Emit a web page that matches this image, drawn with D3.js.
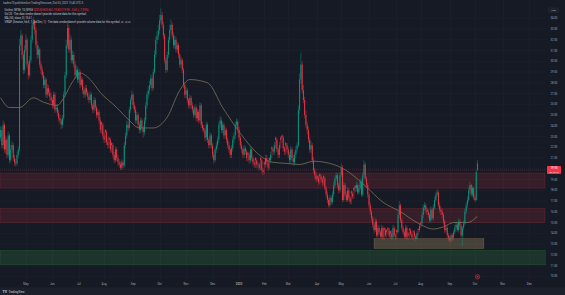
<!DOCTYPE html>
<html>
<head>
<meta charset="utf-8">
<script src="https://cdn.jsdelivr.net/npm/d3@7"></script>
<style>
  html, body { margin: 0; padding: 0; background: #161a25; }
  svg { display: block; font-family: "Roboto", "Liberation Sans", sans-serif; }
</style>
</head>
<body>
<svg id="chart" width="565" height="295"></svg>
<script>
// daily bars, first session 2022-04-01 (weekends + exchange holidays skipped)
const startDate = "2022-04-01";
const holidays = ["2022-04-15", "2022-05-30", "2022-06-20", "2022-07-04", "2022-09-05", "2022-11-24",
  "2022-12-26", "2023-01-02", "2023-01-16", "2023-02-20", "2023-04-07", "2023-05-29", "2023-06-19",
  "2023-07-04", "2023-09-04", "2023-11-23", "2023-12-25"];

const opens = [
  22.9, 23.6, 22.2, 24.1, 21.8, 22.7, 21.3, 23.1, 20.8, 21.8, 22.2, 21.0,
  20.6, 20.5, 21.3, 21.8,
  31.5, 32.4, 30.6, 29.2, 31.1, 32.0, 29.7, 28.7,
  30.1, 32.0, 33.4, 33.7,
  32.9, 31.5, 30.6, 31.1, 29.7,
  29.2, 28.7, 27.8, 28.3, 26.9, 27.5, 27.1,
  26.7, 26.4, 25.9, 26.9, 25.5, 25.7, 25.2,
  24.7, 24.5, 24.1,
  24.7, 26.9, 28.7, 31.5,
  33.1, 31.1, 32.0, 30.1,
  30.6, 29.7, 28.7, 29.2, 28.3,
  29.0, 27.8, 28.3, 27.3, 26.9, 27.5, 27.1,
  26.7, 26.4, 26.9, 25.9, 25.5, 26.4, 25.7, 25.0,
  25.3, 24.5, 24.3, 24.1, 23.1, 23.6, 23.4, 22.5,
  22.9, 22.7, 22.4, 22.2, 21.3, 20.8, 21.8, 21.0,
  20.6, 20.4, 20.1, 20.6,
  20.3, 22.2, 23.1, 24.1,
  23.8, 25.5, 26.4, 26.9,
  25.9, 25.5, 24.5, 25.0, 24.1, 23.6, 24.5, 23.8,
  23.4, 24.5, 25.9, 26.9,
  27.3, 27.8, 28.4, 27.5,
  29.0, 30.6, 32.0, 32.4,
  32.9, 33.8, 34.3, 33.4,
  32.4, 30.1, 29.2, 30.6, 32.0,
  32.9, 33.4, 32.4, 31.5, 32.0, 31.1,
  31.5, 30.6, 29.7, 30.1,
  29.2, 27.8, 26.9, 27.3, 26.4, 25.9,
  26.6, 25.9, 25.5, 25.0, 25.7,
  24.7, 25.3, 24.5, 25.9, 24.1,
  23.8, 23.6, 22.9, 24.1, 22.7, 22.2,
  23.1, 22.2, 21.3, 20.8,
  21.8, 22.2, 22.7, 24.1, 24.5,
  23.6, 24.1, 23.1, 23.6,
  22.7, 22.2, 21.8, 21.3, 21.9,
  22.7, 23.1, 24.1, 24.4, 23.6,
  22.9, 22.2, 21.8, 21.3, 21.9, 21.6,
  21.5, 21.3, 20.8, 21.8, 21.0, 20.6, 21.0, 20.8,
  20.4, 20.4, 21.0, 20.8, 19.9, 20.6, 20.4, 21.0, 20.6, 21.0, 20.8, 22.0, 21.8,
  21.6, 22.9, 22.7, 21.8, 21.3, 22.9, 23.1, 22.9, 21.9, 22.4, 22.2,
  21.8, 21.3, 20.8, 21.8, 21.0, 20.6, 21.3, 21.8,
  22.2, 25.5, 28.3, 29.7, 27.3,
  26.4, 25.0, 24.1,
  23.6, 22.7, 21.8, 22.2, 20.8,
  19.9, 19.4, 19.3, 19.1, 19.5, 19.3, 19.0, 19.3,
  19.1, 18.2, 17.6, 17.1, 16.6, 17.3, 16.9,
  17.6, 18.5, 19.1, 19.4, 18.5,
  18.0, 19.4, 20.1, 17.1,
  18.5, 17.6, 17.1, 18.0, 17.3, 17.9, 17.7, 18.2, 18.4,
  18.2, 18.5, 17.8, 18.2, 18.8,
  17.6, 19.4, 20.4, 19.1,
  18.5, 17.6, 16.6, 16.0,
  15.4, 14.8, 14.3, 15.1, 13.8,
  14.5, 14.1, 13.7, 14.5, 14.5, 14.3, 14.3,
  14.5, 14.3, 14.2, 14.0, 13.6, 14.5, 13.8, 14.3,
  14.1, 15.7, 16.6, 15.2,
  14.5, 14.1, 13.7, 14.5, 14.0, 14.4,
  14.3, 13.9, 14.2, 14.1, 13.7, 13.5, 14.4, 14.3, 15.0,
  14.9, 15.7, 16.4, 16.6, 16.2,
  16.0, 15.7, 15.2, 16.2, 15.4,
  16.4, 17.1, 17.6, 17.8, 16.6, 16.2,
  16.0, 15.7, 15.1, 14.3, 14.5,
  13.8, 13.6, 13.4, 13.8, 13.6,
  14.1, 14.5, 14.8, 14.3, 15.1,
  14.7, 13.8, 14.5,
  14.9, 16.0, 16.6,
  17.1, 18.0, 18.5, 17.6,
  18.2, 17.3,
  17.1, 20.5
];

const highs = [
  24.0, 23.9, 24.5, 24.3, 23.1, 22.9, 23.5, 23.3, 22.2, 22.6, 22.4, 21.3,
  20.9, 21.6, 22.1, 32.1,
  32.9, 32.6, 30.9, 31.5, 32.5, 32.2, 30.0, 30.5,
  32.4, 33.9, 34.1, 33.9,
  33.2, 31.9, 31.5, 31.3, 30.0,
  29.5, 29.0, 28.6, 28.5, 27.9, 27.8, 27.4,
  27.0, 26.6, 27.2, 27.1, 26.0, 26.0, 25.5,
  25.0, 24.7, 25.0,
  27.2, 29.0, 32.0, 33.8,
  33.4, 32.5, 32.3, 31.0,
  30.9, 30.0, 29.6, 29.5, 29.3,
  29.2, 28.6, 28.5, 27.6, 27.8, 27.8, 27.3,
  27.0, 27.2, 27.1, 26.1, 26.7, 26.6, 25.9, 25.6,
  25.5, 24.8, 24.4, 24.3, 23.4, 23.7, 23.6, 22.8,
  23.0, 22.9, 22.5, 22.4, 21.6, 22.1, 22.0, 21.3,
  20.9, 20.7, 20.9, 20.8,
  22.5, 23.4, 24.5, 24.4,
  25.8, 26.7, 27.3, 27.1,
  26.2, 25.8, 25.3, 25.2, 24.4, 24.8, 24.7, 24.0,
  24.8, 26.2, 27.2, 27.7,
  28.2, 28.8, 28.7, 29.3,
  31.0, 32.3, 32.8, 33.4,
  34.3, 34.9, 34.6, 33.7,
  32.6, 30.4, 30.9, 32.3, 33.4,
  33.9, 33.6, 32.7, 32.4, 32.3, 31.8,
  31.7, 30.8, 30.4, 30.3,
  29.4, 28.0, 27.6, 27.5, 26.6, 26.9,
  26.8, 26.2, 25.8, 26.0, 25.9,
  25.6, 25.5, 26.2, 26.1, 24.4,
  24.1, 23.8, 24.4, 24.3, 22.9, 23.4,
  23.3, 22.4, 21.6, 22.0,
  22.5, 23.0, 24.4, 24.9, 24.8,
  24.4, 24.3, 23.9, 23.8,
  22.9, 22.5, 22.0, 22.2, 23.0,
  23.4, 24.4, 24.7, 24.6, 23.9,
  23.1, 22.5, 22.0, 22.2, 22.1, 21.8,
  21.6, 21.5, 22.1, 22.0, 21.2, 20.9, 21.1, 21.0,
  20.7, 20.6, 21.1, 21.0, 20.1, 20.7, 21.3, 21.3, 20.8, 21.1, 21.6, 22.1, 22.0,
  22.5, 23.0, 22.9, 22.0, 22.5, 23.0, 23.2, 23.1, 22.1, 22.5, 22.4,
  22.0, 21.6, 22.1, 22.0, 21.3, 21.6, 22.1, 22.5,
  25.9, 28.9, 30.8, 30.0, 27.8,
  26.7, 25.4, 24.4,
  23.9, 23.0, 22.6, 22.4, 21.1,
  20.1, 19.7, 19.4, 19.4, 19.6, 19.5, 19.2, 19.4,
  19.3, 18.4, 17.9, 17.3, 17.6, 17.5, 17.9,
  18.8, 19.4, 19.7, 19.6, 18.7,
  19.7, 20.5, 20.3, 18.8,
  18.7, 17.9, 18.3, 18.2, 17.5, 18.0, 17.9, 18.3, 18.5,
  18.8, 18.7, 18.5, 19.1, 19.0,
  19.7, 20.8, 20.6, 19.3,
  18.7, 17.8, 16.9, 16.2,
  15.6, 15.0, 15.4, 15.3, 14.8,
  14.8, 14.3, 14.8, 14.7, 14.6, 14.5, 14.4,
  14.6, 14.5, 14.2, 14.3, 14.8, 14.7, 14.0, 14.4,
  16.0, 17.0, 16.8, 15.4,
  14.7, 14.3, 14.8, 14.7, 14.1, 14.5,
  14.5, 14.1, 14.3, 14.3, 13.9, 14.2, 14.5, 14.9, 15.1,
  16.0, 16.7, 16.9, 16.8, 16.4,
  16.2, 15.9, 16.5, 16.4, 16.7,
  17.4, 17.9, 18.1, 18.0, 16.9, 16.5,
  16.3, 15.9, 15.3, 14.8, 14.7,
  14.0, 13.8, 14.0, 14.0, 14.3,
  14.8, 15.1, 15.0, 15.4, 15.3,
  14.9, 14.7, 15.2,
  16.3, 16.9, 17.4,
  18.3, 18.8, 18.6, 18.4,
  18.3, 17.6,
  19.9, 20.8
];

const lows = [
  22.6, 21.9, 21.8, 21.5, 21.4, 21.0, 21.0, 20.5, 20.6, 21.5, 20.7, 20.3,
  20.2, 20.3, 21.0, 21.6,
  31.0, 30.2, 28.8, 28.9, 30.8, 29.4, 28.3, 28.5,
  29.8, 31.7, 33.0, 32.5,
  31.2, 30.2, 30.3, 29.4, 28.8,
  28.4, 27.5, 27.5, 26.6, 26.6, 26.8, 26.3,
  26.1, 25.6, 25.6, 25.2, 25.3, 24.9, 24.4,
  24.2, 23.7, 23.8,
  24.5, 26.6, 28.4, 31.2,
  30.8, 30.8, 29.8, 29.8,
  29.4, 28.4, 28.4, 28.0, 28.0,
  27.5, 27.6, 27.0, 26.6, 26.6, 26.8, 26.4,
  26.1, 26.1, 25.6, 25.2, 25.2, 25.4, 24.7, 24.8,
  24.2, 23.3, 23.3, 22.8, 22.4, 22.4, 22.2, 21.9,
  21.9, 21.5, 21.5, 21.0, 20.5, 20.6, 20.7, 20.3,
  20.1, 19.9, 19.9, 20.0,
  20.1, 21.9, 22.8, 23.5,
  23.6, 25.2, 26.0, 25.6,
  25.2, 24.2, 24.2, 23.8, 23.3, 23.3, 23.5, 22.9,
  23.1, 24.2, 25.6, 26.5,
  27.0, 27.5, 27.2, 27.3,
  28.8, 30.3, 31.6, 32.0,
  32.6, 33.5, 33.1, 32.1,
  29.8, 28.9, 29.0, 30.3, 31.7,
  32.6, 32.1, 31.2, 31.2, 30.8, 30.8,
  30.3, 29.4, 29.4, 28.9,
  27.5, 26.6, 26.6, 26.1, 25.6, 25.6,
  25.6, 25.2, 24.7, 24.8, 24.4,
  24.4, 24.2, 24.3, 23.8, 23.5,
  23.3, 22.6, 22.6, 22.4, 21.9, 21.9,
  21.9, 21.0, 20.5, 20.6,
  21.5, 21.9, 22.4, 23.8, 23.3,
  23.3, 22.8, 22.8, 22.4,
  21.9, 21.5, 21.0, 21.0, 21.6,
  22.4, 22.8, 23.8, 23.3, 22.6,
  21.9, 21.5, 21.0, 21.0, 21.3, 20.7,
  20.7, 20.5, 20.5, 20.7, 20.3, 20.1, 20.1, 20.1,
  20.0, 19.8, 19.9, 19.6, 19.4, 19.5, 20.1, 20.3, 19.8, 19.9, 20.5, 21.0, 21.3,
  21.3, 21.9, 21.5, 21.0, 21.0, 21.9, 22.4, 21.6, 21.3, 21.3, 21.5,
  21.0, 20.5, 20.5, 20.7, 20.3, 20.3, 21.0, 21.5,
  22.0, 25.1, 27.9, 27.0, 26.1,
  24.7, 23.8, 23.2,
  22.4, 21.5, 21.5, 20.5, 19.6,
  19.1, 18.8, 18.8, 18.5, 18.6, 18.8, 18.4, 18.5,
  18.0, 17.3, 16.8, 16.4, 16.4, 16.6, 16.7,
  17.4, 18.2, 18.9, 18.2, 17.7,
  17.8, 19.2, 16.9, 16.9,
  17.4, 16.9, 16.9, 17.0, 16.7, 16.7, 17.2, 17.2, 17.8,
  17.9, 17.6, 17.6, 18.0, 17.4,
  17.4, 19.1, 18.9, 18.2,
  17.3, 16.3, 15.7, 15.1,
  14.5, 14.0, 14.1, 13.6, 13.6,
  13.9, 13.5, 13.5, 13.4, 13.4, 13.6, 13.6,
  13.9, 13.5, 13.5, 13.4, 13.4, 13.6, 13.4, 13.5,
  13.9, 15.4, 15.0, 14.3,
  13.9, 13.5, 13.5, 13.4, 13.4, 13.6,
  13.7, 13.4, 13.4, 13.5, 13.3, 13.4, 13.8, 14.1, 14.5,
  14.7, 15.4, 16.1, 15.9, 15.7,
  15.4, 15.0, 15.0, 15.2, 15.2,
  16.2, 16.9, 17.4, 16.4, 15.9, 15.7,
  15.4, 14.8, 14.0, 14.1, 13.5,
  13.3, 13.1, 13.2, 13.3, 13.4,
  13.9, 14.3, 14.1, 14.1, 14.4,
  13.6, 12.8, 14.3,
  14.7, 15.8, 16.3,
  16.9, 17.7, 17.4, 17.4,
  17.1, 16.9,
  17.0, 19.8
];

const closes = [
  23.6, 22.2, 24.1, 21.8, 22.7, 21.3, 23.1, 20.8, 21.8, 22.2, 21.0, 20.6,
  20.5, 21.3, 21.8, 31.5,
  32.4, 30.6, 29.2, 31.1, 32.0, 29.7, 28.7, 30.1,
  32.0, 33.4, 33.7, 32.9,
  31.5, 30.6, 31.1, 29.7, 29.2,
  28.7, 27.8, 28.3, 26.9, 27.5, 27.1, 26.7,
  26.4, 25.9, 26.9, 25.5, 25.7, 25.2, 24.7,
  24.5, 24.1, 24.7,
  26.9, 28.7, 31.5, 33.1,
  31.1, 32.0, 30.1, 30.6,
  29.7, 28.7, 29.2, 28.3, 29.0,
  27.8, 28.3, 27.3, 26.9, 27.5, 27.1, 26.7,
  26.4, 26.9, 25.9, 25.5, 26.4, 25.7, 25.0, 25.3,
  24.5, 23.6, 24.1, 23.1, 22.7, 23.4, 22.5, 22.2,
  22.7, 21.8, 22.2, 21.3, 20.8, 21.8, 21.0, 20.6,
  20.4, 20.1, 20.6, 20.3,
  22.2, 23.1, 24.1, 23.8,
  25.5, 26.4, 26.9, 25.9,
  25.5, 24.5, 25.0, 24.1, 23.6, 24.5, 23.8, 23.4,
  24.5, 25.9, 26.9, 27.3,
  27.8, 28.4, 27.5, 29.0,
  30.6, 32.0, 32.4, 32.9,
  33.8, 34.3, 33.4, 32.4,
  30.1, 29.2, 30.6, 32.0, 32.9,
  33.4, 32.4, 31.5, 32.0, 31.1, 31.5,
  30.6, 29.7, 30.1, 29.2,
  27.8, 26.9, 27.3, 26.4, 25.9, 26.6,
  25.9, 25.5, 25.0, 25.7, 24.7,
  25.3, 24.5, 25.9, 24.1, 23.8,
  23.6, 22.9, 24.1, 22.7, 22.2, 23.1,
  22.2, 21.3, 20.8, 21.8,
  22.2, 22.7, 24.1, 24.5, 23.6,
  24.1, 23.1, 23.6, 22.7,
  22.2, 21.8, 21.3, 21.9, 22.7,
  23.1, 24.1, 24.4, 23.6, 22.9,
  22.2, 21.8, 21.3, 21.9, 21.6, 21.0,
  21.3, 20.8, 21.8, 21.0, 20.6, 20.4, 20.8, 20.4,
  20.4, 20.1, 20.8, 19.9, 19.7, 20.4, 21.0, 20.6, 20.1, 20.8, 21.3, 21.8, 21.6,
  22.2, 22.7, 21.8, 21.3, 22.2, 22.7, 22.9, 21.9, 21.6, 22.2, 21.8,
  21.3, 20.8, 21.8, 21.0, 20.6, 21.3, 21.8, 22.2,
  25.5, 28.3, 29.7, 27.3, 26.4,
  25.0, 24.1, 23.6,
  22.7, 21.8, 22.2, 20.8, 19.9,
  19.4, 19.0, 19.1, 18.8, 19.3, 19.0, 18.7, 19.1,
  18.2, 17.6, 17.1, 16.6, 17.3, 16.9, 17.6,
  18.5, 19.1, 19.4, 18.5, 18.0,
  19.4, 20.1, 17.1, 18.5,
  17.6, 17.1, 18.0, 17.3, 16.9, 17.7, 17.4, 18.0, 18.2,
  18.5, 17.8, 18.2, 18.8, 17.6,
  19.4, 20.4, 19.1, 18.5,
  17.6, 16.6, 16.0, 15.4,
  14.8, 14.3, 15.1, 13.8, 14.5,
  14.1, 13.7, 14.5, 13.6, 14.3, 13.8, 14.1,
  14.3, 13.7, 14.0, 13.6, 14.5, 13.8, 13.7, 14.1,
  15.7, 16.6, 15.2, 14.5,
  14.1, 13.7, 14.5, 13.6, 13.8, 14.3,
  13.9, 13.6, 14.1, 13.7, 13.5, 14.0, 14.3, 14.7, 14.9,
  15.7, 16.4, 16.6, 16.2, 16.0,
  15.7, 15.2, 16.2, 15.4, 16.4,
  17.1, 17.6, 17.8, 16.6, 16.2, 16.0,
  15.7, 15.1, 14.3, 14.5, 13.8,
  13.6, 13.4, 13.8, 13.6, 14.1,
  14.5, 14.8, 14.3, 15.1, 14.7,
  13.8, 14.5, 14.9,
  16.0, 16.6, 17.1,
  18.0, 18.5, 17.6, 18.2,
  17.3, 17.1,
  19.7, 19.9
];

// MA (50) at these bar numbers
const maBars = [0, 7, 15, 26, 34, 45, 49, 57, 63, 71, 79, 92, 102, 110, 121, 132, 142, 150, 164, 176,
  190, 203, 216, 227, 237, 248, 264, 277, 290, 303, 317, 330, 343, 351, 359, 370, 378];
const maValues = [26.6, 25.7, 25.7, 26.6, 26.2, 25.9, 26.4, 28.1, 28.9, 28.3, 27.1, 25.7, 24.5, 23.8, 23.8,
  24.8, 27.3, 28.3, 28.0, 25.7, 23.3, 21.5, 20.6, 20.5, 20.4, 20.7, 20.4, 19.6, 18.3, 16.9, 16.0, 15.0,
  14.4, 14.6, 15.0, 15.0, 15.6];

const priceTicks = [34, 33, 32, 31, 30, 29, 28, 27, 26, 25, 24, 23, 22, 21, 20, 19, 18, 17, 16, 15, 14, 13, 12, 11, 10];

// horizontal zones: [top, bottom]
const resistanceZones = [[19.6, 18.2], [16.3, 15.0]];
const supportZone = [12.4, 11.1];
// base box: bar range and price range
const baseBars = [296, 383];
const basePrices = [13.5, 12.6];

const lastPrice = 19.90;
const barCountdown = "06:16:43";
const totalSlots = 432;

const svg = d3.select("#chart");
const W = 565, H = 295;
const plotW = 546, plotH = 280;
const up = "#089981", down = "#f23645";

svg.append("rect").attr("width", W).attr("height", H).attr("fill", "#161a25");

// trading calendar
const parse = d3.timeParse("%Y-%m-%d");
const fmtDay = d3.timeFormat("%Y-%m-%d");
const holidaySet = new Set(holidays);
const days = [];
let cur = parse(startDate);
while (days.length < totalSlots) {
  const wd = cur.getDay();
  if (wd !== 0 && wd !== 6 && !holidaySet.has(fmtDay(cur))) days.push(cur);
  cur = d3.timeDay.offset(cur, 1);
}

const x = d3.scaleLinear().domain([-0.5, totalSlots - 0.5]).range([0, 545]);
const y = d3.scaleLinear().domain([10, 34]).range([276.3, 18.3]);
const step = x(1) - x(0);

const monthTicks = [];
for (let i = 1; i < days.length; i++) {
  if (days[i].getMonth() !== days[i - 1].getMonth()) monthTicks.push(i);
}
const fmtMonth = d3.timeFormat("%b");
const tickLabel = i => days[i].getMonth() === 0 ? String(days[i].getFullYear()) : fmtMonth(days[i]);

svg.append("clipPath").attr("id", "plot-clip")
  .append("rect").attr("width", plotW).attr("height", plotH);

const plot = svg.append("g").attr("clip-path", "url(#plot-clip)");

// grid
plot.append("g").selectAll("line").data(monthTicks).join("line")
  .attr("x1", d => Math.round(x(d)) + 0.5).attr("x2", d => Math.round(x(d)) + 0.5)
  .attr("y1", 0).attr("y2", plotH)
  .attr("stroke", "#1e222f").attr("stroke-width", 0.6);
plot.append("g").selectAll("line").data(priceTicks).join("line")
  .attr("x1", 0).attr("x2", plotW)
  .attr("y1", d => y(d)).attr("y2", d => y(d))
  .attr("stroke", "#1e222f").attr("stroke-width", 0.6);

// zones
plot.append("g").selectAll("rect").data(resistanceZones).join("rect")
  .attr("x", x(-0.5)).attr("width", x(totalSlots - 0.5) - x(-0.5))
  .attr("y", d => y(d[0])).attr("height", d => y(d[1]) - y(d[0]))
  .attr("fill", "rgba(242,54,69,0.15)")
  .attr("stroke", "rgba(242,54,69,0.28)").attr("stroke-width", 0.6);

plot.append("rect")
  .attr("x", x(-0.5)).attr("width", x(totalSlots + 1.5) - x(-0.5))
  .attr("y", y(supportZone[0])).attr("height", y(supportZone[1]) - y(supportZone[0]))
  .attr("fill", "rgba(56,160,70,0.2)")
  .attr("stroke", "rgba(56,160,70,0.35)").attr("stroke-width", 0.6);

plot.append("rect")
  .attr("x", x(baseBars[0])).attr("width", x(baseBars[1]) - x(baseBars[0]))
  .attr("y", y(basePrices[0])).attr("height", y(basePrices[1]) - y(basePrices[0]))
  .attr("fill", "rgba(185,160,105,0.30)")
  .attr("stroke", "rgba(185,160,105,0.4)").attr("stroke-width", 0.6);

// moving average
const maPts = maBars.map((b, i) => [b, maValues[i]]);
plot.append("path")
  .datum(maPts)
  .attr("fill", "none")
  .attr("stroke", "#8f8a66")
  .attr("stroke-opacity", 0.9)
  .attr("stroke-width", 0.7)
  .attr("d", d3.line().x(d => x(d[0])).y(d => y(d[1])).curve(d3.curveMonotoneX));

// candles
const bars = closes.map((c, i) => ({ i, o: opens[i], h: highs[i], l: lows[i], c }));
const candles = plot.append("g").selectAll("g").data(bars).join("g");
candles.append("line")
  .attr("x1", d => x(d.i)).attr("x2", d => x(d.i))
  .attr("y1", d => y(d.h)).attr("y2", d => y(d.l))
  .attr("stroke", d => d.c >= d.o ? up : down)
  .attr("stroke-width", 0.45);
candles.append("rect")
  .attr("x", d => x(d.i) - step * 0.36)
  .attr("width", step * 0.72)
  .attr("y", d => y(Math.max(d.o, d.c)))
  .attr("height", d => Math.max(0.5, Math.abs(y(d.o) - y(d.c))))
  .attr("fill", d => d.c >= d.o ? up : down);

// last price line
plot.append("line")
  .attr("x1", 0).attr("x2", plotW)
  .attr("y1", y(lastPrice)).attr("y2", y(lastPrice))
  .attr("stroke", down).attr("stroke-opacity", 0.7)
  .attr("stroke-width", 0.5).attr("stroke-dasharray", "0.8,1.2");

// earnings marker
svg.append("circle").attr("cx", x(closes.length - 1)).attr("cy", 276.8).attr("r", 2.2)
  .attr("fill", "#2a1d27").attr("stroke", down).attr("stroke-width", 0.5);
svg.append("circle").attr("cx", x(closes.length - 1)).attr("cy", 276.8).attr("r", 0.8)
  .attr("fill", down);

// price scale
const axisText = "#a3a6af";
svg.append("g").selectAll("text").data(priceTicks).join("text")
  .attr("x", 554).attr("y", d => y(d) + 1)
  .attr("text-anchor", "middle")
  .attr("font-size", 2.7).attr("fill", axisText)
  .text(d => d3.format(".2f")(d));

svg.append("rect").attr("x", 548.5).attr("y", 7.8).attr("width", 10).attr("height", 4.6).attr("rx", 0.6)
  .attr("fill", "#1e222d").attr("stroke", "#2a2e39").attr("stroke-width", 0.4);
svg.append("text").attr("x", 553.5).attr("y", 11).attr("text-anchor", "middle")
  .attr("font-size", 2.5).attr("fill", "#b2b5be").text("USD");

const ly = y(lastPrice);
svg.append("rect").attr("x", 547).attr("y", ly - 4).attr("width", 14).attr("height", 8).attr("rx", 0.6)
  .attr("fill", down);
svg.append("text").attr("x", 554).attr("y", ly - 0.6).attr("text-anchor", "middle")
  .attr("font-size", 2.8).attr("fill", "#ffffff").text(d3.format(".2f")(lastPrice));
svg.append("text").attr("x", 554).attr("y", ly + 2.8).attr("text-anchor", "middle")
  .attr("font-size", 2.4).attr("fill", "#ffe3e5").text(barCountdown);

// time scale
svg.append("g").selectAll("text").data(monthTicks).join("text")
  .attr("x", d => x(d)).attr("y", 285)
  .attr("text-anchor", "middle")
  .attr("font-size", 2.8).attr("fill", axisText)
  .attr("font-weight", d => days[d].getMonth() === 0 ? 700 : 400)
  .text(tickLabel);

// footer
svg.append("rect").attr("x", 0).attr("y", 287.5).attr("width", W).attr("height", 7.5).attr("fill", "#1c202b");
svg.append("text").attr("x", 2.5).attr("y", 293).attr("font-size", 3.4).attr("font-weight", 700)
  .attr("fill", "#d1d4dc").text("TV");
svg.append("text").attr("x", 8.5).attr("y", 292.8).attr("font-size", 2.9)
  .attr("fill", "#d1d4dc").text("TradingView");

// header and legend
const legendColor = "#c9ccd4";
svg.append("text").attr("x", 3).attr("y", 4.3).attr("font-size", 2.7).attr("fill", "#b2b5be")
  .text("traderx75 published on TradingView.com, Oct 05, 2023 13:43 UTC-5");

const l1 = svg.append("text").attr("x", 4.5).attr("y", 11).attr("font-size", 2.7).attr("fill", legendColor);
l1.append("tspan").text("Unifirst, NYSE, 1D, NYSE  ");
l1.append("tspan").attr("fill", down)
  .text("O20.50 H20.80 L19.80 C19.90 \u22120.60 (\u22122.93%)");

svg.append("text").attr("x", 4.5).attr("y", 15).attr("font-size", 2.7).attr("fill", legendColor)
  .text("Vol 20 \u00b7 The data vendor doesn't provide volume data for this symbol.");
svg.append("text").attr("x", 4.5).attr("y", 19).attr("font-size", 2.7).attr("fill", legendColor)
  .text("MA (50, close, 0)  15.61");
svg.append("text").attr("x", 4.5).attr("y", 23).attr("font-size", 2.7).attr("fill", legendColor)
  .text("VWAP (Session, hlc3, 1, Std Dev, 1) \u00b7 The data vendor doesn't provide volume data for this symbol.  \u2205  \u2205  \u2205");
</script>
</body>
</html>
